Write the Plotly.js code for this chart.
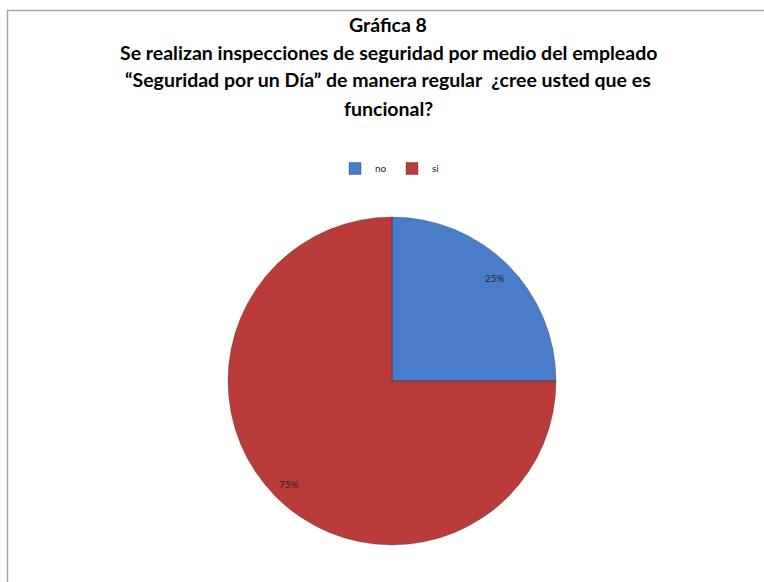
<!DOCTYPE html>
<html>
<head>
<meta charset="utf-8">
<script src="https://cdn.plot.ly/plotly-3.0.1.min.js"></script>
<style>html,body{margin:0;padding:0;background:#fff;}#chart{width:764px;height:582px;}</style>
</head>
<body>
<div id="chart"></div>
<script>
const categories = ["no", "si"];
const values = [25, 75];
const sliceColors = ["#4a7dc9", "#b93b3a"];
const titleLines = [
  "Gráfica 8",
  "Se realizan inspecciones de seguridad por medio del empleado",
  "“Seguridad por un Día” de manera regular  ¿cree usted que es",
  "funcional?"
];

const W = 764, H = 582;
const cx = 392, cy = 381, R = 164;

const trace = {
  type: "pie",
  labels: categories,
  values: values,
  sort: false,
  direction: "clockwise",
  rotation: 0,
  marker: { colors: sliceColors, line: { color: "rgba(0,0,0,0.25)", width: 1 } },
  textinfo: "none",
  hoverinfo: "label+percent",
  domain: { x: [(cx - R) / W, (cx + R) / W], y: [(H - cy - R) / H, (H - cy + R) / H] }
};

const titleY = [25, 52, 80, 108];
const annotations = titleLines.map((t, i) => ({
  text: "<b>" + t + "</b>",
  xref: "paper", yref: "paper",
  x: 388 / W, y: 1 - titleY[i] / H,
  xanchor: "center", yanchor: "middle",
  showarrow: false,
  font: { family: "Lato, 'Open Sans', sans-serif", size: 19.5, color: "#000" }
}));

// percentage labels placed from the data (mid-angle of each slice)
const total = values.reduce((a, b) => a + b, 0);
let cum = 0;
values.forEach((v) => {
  const mid = (cum + v / 2) / total * 2 * Math.PI; // clockwise from 12 o'clock
  cum += v;
  const rr = 0.89 * R;
  const px = cx + rr * Math.sin(mid);
  const py = cy - rr * Math.cos(mid);
  annotations.push({
    text: Math.round(v / total * 100) + "%",
    xref: "paper", yref: "paper",
    x: px / W, y: 1 - py / H,
    xanchor: "center", yanchor: "middle", showarrow: false,
    font: { family: "Lato, 'Open Sans', sans-serif", size: 10, color: "#222" }
  });
});

const layout = {
  width: W, height: H,
  margin: { l: 0, r: 0, t: 0, b: 0 },
  paper_bgcolor: "#fff",
  showlegend: true,
  legend: {
    orientation: "h", x: 392 / W, xanchor: "center", y: 1 - 154 / H, yanchor: "top",
    font: { family: "Lato, 'Open Sans', sans-serif", size: 10, color: "#222" },
    itemwidth: 30, tracegroupgap: 0, entrywidth: 12, entrywidthmode: "pixels"
  },
  annotations: annotations,
  shapes: [{
    type: "rect", xref: "paper", yref: "paper",
    x0: 7.5 / W, x1: 770 / W, y0: -0.05, y1: 1 - 10.5 / H,
    line: { color: "#a6a6a6", width: 1.5 }
  }]
};

Plotly.newPlot("chart", [trace], layout, { displayModeBar: false, staticPlot: true });
</script>
</body>
</html>
